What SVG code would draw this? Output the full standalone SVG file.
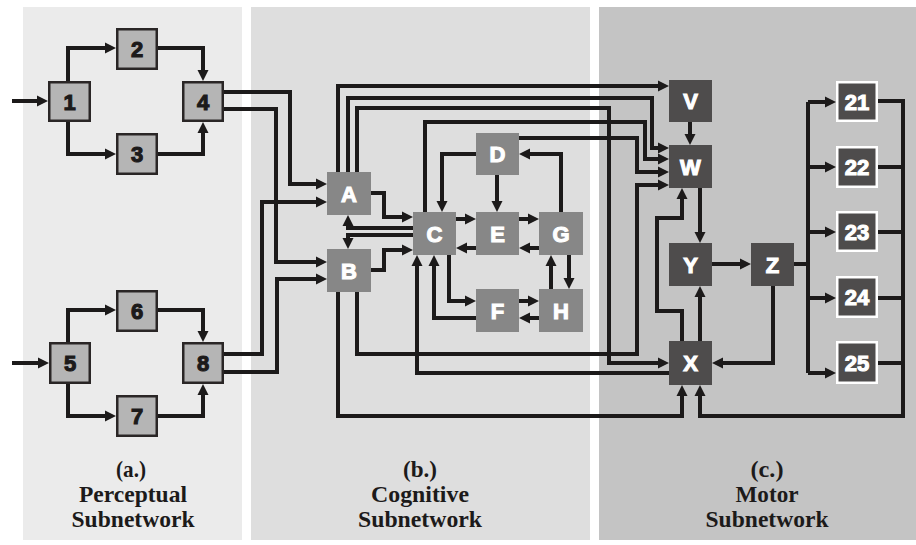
<svg xmlns="http://www.w3.org/2000/svg" width="916" height="545" viewBox="0 0 916 545">
<defs>
<marker id="ah" markerUnits="userSpaceOnUse" markerWidth="12" markerHeight="12" viewBox="0 -6 12 12" refX="2" refY="0" orient="auto">
<path d="M0,-5.5 L11,0 L0,5.5 z" fill="#1c1a1a"/>
</marker>
<style>
.pa{fill:#ebebeb}.pb{fill:#dedede}.pc{fill:#c4c4c4}
.np{fill:#b5b5b5;stroke:#2a2626;stroke-width:2.5}
.nc{fill:#878787}
.nm{fill:#4e4c4c}
.nn{fill:#4e4c4c;stroke:#ffffff;stroke-width:2.5}
.tp{font-family:"Liberation Sans",Arial,sans-serif;font-weight:bold;font-size:22px;fill:#1c1a1a;stroke:#1c1a1a;stroke-width:1.1;text-anchor:middle;dominant-baseline:central}
.tw{font-family:"Liberation Sans",Arial,sans-serif;font-weight:bold;font-size:22px;fill:#ffffff;stroke:#ffffff;stroke-width:1.1;text-anchor:middle;dominant-baseline:central}
.lb{font-family:"Liberation Serif","Times New Roman",serif;font-weight:bold;font-size:23px;fill:#1c1a1a;text-anchor:middle}
.c path{fill:none;stroke:#1c1a1a;stroke-width:4;stroke-linejoin:miter}
.c .a{marker-end:url(#ah)}
</style>
</defs>
<rect width="916" height="545" fill="#ffffff"/>
<rect class="pa" x="23" y="7" width="219" height="533"/>
<rect class="pb" x="251" y="7" width="339" height="533"/>
<rect class="pc" x="599" y="7" width="317" height="533"/>

<g class="c" id="connectors">
<path class="a" d="M12,101 H39"/>
<path class="a" d="M68,81 V48 H107"/>
<path class="a" d="M68,122 V154 H107"/>
<path class="a" d="M158,48 H203 V72"/>
<path class="a" d="M158,154 H203 V131"/>
<path class="a" d="M12,363 H40"/>
<path class="a" d="M68,342 V310 H107"/>
<path class="a" d="M68,384 V416 H107"/>
<path class="a" d="M158,310 H203 V333"/>
<path class="a" d="M158,416 H203 V393"/>
<path class="a" d="M224,92 H290 V184 H318"/>
<path class="a" d="M224,109 H276 V262 H318"/>
<path class="a" d="M224,354 H262 V202 H318"/>
<path class="a" d="M224,372 H277 V279 H318"/>

<path class="a" d="M371,193 H384 V217 H404"/>
<path class="a" d="M371,270 H384 V250 H404"/>
<path class="a" d="M413,228 H348 V224"/>
<path class="a" d="M413,235 H348 V240"/>
<path class="a" d="M456,219 H467"/>
<path class="a" d="M476,248 H465"/>
<path class="a" d="M519,219 H530"/>
<path class="a" d="M539,248 H528"/>
<path class="a" d="M497,175 V203"/>
<path class="a" d="M476,154 H442 V203"/>
<path class="a" d="M561,212 V154 H528"/>
<path class="a" d="M569,255 V280"/>
<path class="a" d="M551,289 V264"/>
<path class="a" d="M449,255 V301 H467"/>
<path class="a" d="M476,318 H434 V264"/>
<path class="a" d="M519,301 H530"/>
<path class="a" d="M539,318 H528"/>

<path class="a" d="M338,172 V86 H660"/>
<path class="a" d="M348,172 V98 H652 V148 H660"/>
<path class="a" d="M357,172 V108 H609 V363 H660"/>
<path class="a" d="M425,212 V122 H645 V159 H660"/>
<path class="a" d="M519,138 H637 V172 H660"/>
<path class="a" d="M357,292 V354 H637 V185 H660"/>
<path class="a" d="M338,292 V416 H682 V394"/>
<path class="a" d="M669,373 H417 V264"/>

<path class="a" d="M690,122 V136"/>
<path class="a" d="M700,188 V234"/>
<path class="a" d="M712,264 H742"/>
<path class="a" d="M773,286 V363 H721"/>
<path class="a" d="M700,341 V295"/>
<path class="a" d="M682,341 V311 H657 V218 H682 V197"/>
<path d="M794,264 H808"/>
<path d="M808,102 V373"/>
<path class="a" d="M808,102 H827"/>
<path class="a" d="M808,167 H827"/>
<path class="a" d="M808,232 H827"/>
<path class="a" d="M808,298 H827"/>
<path class="a" d="M808,373 H827"/>
<path d="M878,167 H903"/>
<path d="M878,232 H903"/>
<path d="M878,298 H903"/>
<path d="M878,363 H903"/>
<path class="a" d="M878,101 H903 V416 H700 V394"/>
</g>

<g id="n1"><rect class="np" x="49.25" y="82.25" width="40.5" height="38.5"/><text class="tp" x="69.5" y="102">1</text></g>
<g id="n2"><rect class="np" x="117.25" y="29.25" width="39.5" height="39.5"/><text class="tp" x="137" y="49.5">2</text></g>
<g id="n3"><rect class="np" x="117.25" y="134.25" width="39.5" height="39.5"/><text class="tp" x="137" y="154.5">3</text></g>
<g id="n4"><rect class="np" x="183.25" y="82.25" width="39.5" height="38.5"/><text class="tp" x="203" y="102">4</text></g>
<g id="n5"><rect class="np" x="50.25" y="343.25" width="39.5" height="39.5"/><text class="tp" x="70" y="363.5">5</text></g>
<g id="n6"><rect class="np" x="117.25" y="291.25" width="39.5" height="39.5"/><text class="tp" x="137" y="311.5">6</text></g>
<g id="n7"><rect class="np" x="117.25" y="396.25" width="39.5" height="39.5"/><text class="tp" x="137" y="416.5">7</text></g>
<g id="n8"><rect class="np" x="183.25" y="343.25" width="39.5" height="39.5"/><text class="tp" x="203" y="363.5">8</text></g>

<g id="nA"><rect class="nc" x="327" y="172" width="44" height="43"/><text class="tw" x="349" y="194">A</text></g>
<g id="nB"><rect class="nc" x="327" y="249" width="44" height="43"/><text class="tw" x="349" y="271">B</text></g>
<g id="nC"><rect class="nc" x="413" y="212" width="43" height="43"/><text class="tw" x="434.5" y="234">C</text></g>
<g id="nD"><rect class="nc" x="476" y="133" width="43" height="42"/><text class="tw" x="497.5" y="154.5">D</text></g>
<g id="nE"><rect class="nc" x="476" y="212" width="43" height="43"/><text class="tw" x="497.5" y="234">E</text></g>
<g id="nG"><rect class="nc" x="539" y="212" width="44" height="43"/><text class="tw" x="561" y="234">G</text></g>
<g id="nF"><rect class="nc" x="476" y="289" width="43" height="43"/><text class="tw" x="497.5" y="311">F</text></g>
<g id="nH"><rect class="nc" x="539" y="289" width="44" height="43"/><text class="tw" x="561" y="311">H</text></g>

<g id="nV"><rect class="nm" x="669" y="80" width="43" height="42"/><text class="tw" x="690.5" y="101.5">V</text></g>
<g id="nW"><rect class="nm" x="669" y="145" width="43" height="43"/><text class="tw" x="690.5" y="167">W</text></g>
<g id="nY"><rect class="nm" x="669" y="243" width="43" height="43"/><text class="tw" x="690.5" y="265">Y</text></g>
<g id="nZ"><rect class="nm" x="751" y="243" width="43" height="43"/><text class="tw" x="772.5" y="265">Z</text></g>
<g id="nX"><rect class="nm" x="669" y="341" width="43" height="44"/><text class="tw" x="690.5" y="363.5">X</text></g>

<g id="n21"><rect class="nn" x="837.25" y="82.25" width="39.5" height="38.5"/><text class="tw" x="857" y="102">21</text></g>
<g id="n22"><rect class="nn" x="837.25" y="147.25" width="39.5" height="39.5"/><text class="tw" x="857" y="167.5">22</text></g>
<g id="n23"><rect class="nn" x="837.25" y="212.25" width="39.5" height="38.5"/><text class="tw" x="857" y="232">23</text></g>
<g id="n24"><rect class="nn" x="837.25" y="277.25" width="39.5" height="39.5"/><text class="tw" x="857" y="297.5">24</text></g>
<g id="n25"><rect class="nn" x="837.25" y="342.25" width="39.5" height="40.5"/><text class="tw" x="857" y="363">25</text></g>

<g id="labels">
<text class="lb" x="131" y="477" textLength="30" lengthAdjust="spacingAndGlyphs">(a.)</text>
<text class="lb" x="133" y="502" textLength="108" lengthAdjust="spacingAndGlyphs">Perceptual</text>
<text class="lb" x="133" y="527" textLength="123" lengthAdjust="spacingAndGlyphs">Subnetwork</text>
<text class="lb" x="420" y="477" textLength="34" lengthAdjust="spacingAndGlyphs">(b.)</text>
<text class="lb" x="420" y="502" textLength="98" lengthAdjust="spacingAndGlyphs">Cognitive</text>
<text class="lb" x="420" y="527" textLength="124" lengthAdjust="spacingAndGlyphs">Subnetwork</text>
<text class="lb" x="767" y="477" textLength="33" lengthAdjust="spacingAndGlyphs">(c.)</text>
<text class="lb" x="767" y="502" textLength="63" lengthAdjust="spacingAndGlyphs">Motor</text>
<text class="lb" x="767" y="527" textLength="123" lengthAdjust="spacingAndGlyphs">Subnetwork</text>
</g>
</svg>
